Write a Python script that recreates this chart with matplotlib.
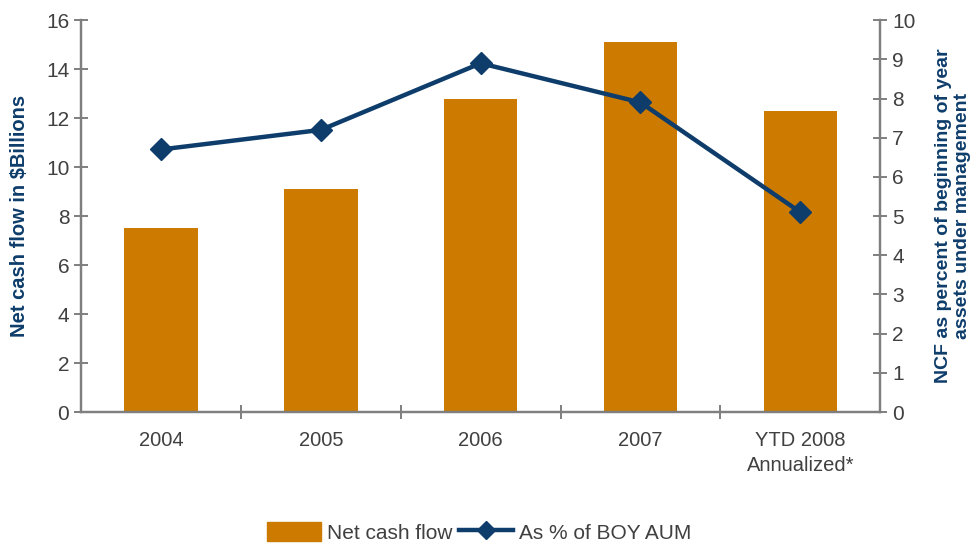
import matplotlib.pyplot as plt
import numpy as np
from matplotlib.lines import Line2D
from matplotlib.patches import Patch

# Dados
categorias = ['2004', '2005', '2006', '2007', 'YTD 2008\nAnnualized*']
fluxo_caixa = [7.5, 9.1, 12.8, 15.1, 12.3]      # $ bilhoes
pct_boy_aum = [6.7, 7.2, 8.9, 7.9, 5.1]         # % do AUM

laranja = '#CC7A00'
azul = '#0E3D6B'
cinza = '#7F7F7F'
texto = '#404040'

plt.rcParams['font.family'] = ['Liberation Sans', 'DejaVu Sans']

fig = plt.figure(figsize=(9.78, 5.45), dpi=100)
ax = fig.add_axes([0.083, 0.244, 0.817, 0.719])
ax2 = ax.twinx()

x = np.arange(len(categorias))
ax.bar(x, fluxo_caixa, width=0.46, color=laranja, zorder=2)
ax2.plot(x, pct_boy_aum, color=azul, linewidth=3.2, marker='D', markersize=11,
         zorder=3)

ax.set_xlim(-0.5, len(categorias) - 0.5)
ax.set_ylim(0, 16)
ax2.set_ylim(0, 10)
ax.set_yticks(range(0, 17, 2))
ax2.set_yticks(range(0, 11))

# Eixos
for a in (ax, ax2):
    a.spines['top'].set_visible(False)
    for s in ('left', 'right', 'bottom'):
        a.spines[s].set_color(cinza)
        a.spines[s].set_linewidth(1.6)
ax.set_zorder(ax2.get_zorder() - 1)
ax2.patch.set_visible(False)

ax.set_xticks(x)
ax.set_xticklabels(categorias, fontsize=14.5, color=texto, linespacing=1.35)
ax.set_xticks(np.arange(0.5, len(categorias) - 0.5), minor=True)
ax.tick_params(axis='x', which='major', length=0, pad=14)
ax.tick_params(axis='x', which='minor', direction='inout', length=10,
               width=1.4, color=cinza)
ax.tick_params(axis='y', direction='inout', length=10, width=1.4, color=cinza,
               labelsize=15, labelcolor=texto)
ax2.tick_params(axis='y', direction='inout', length=10, width=1.4, color=cinza,
                labelsize=15, labelcolor=texto)

ax.set_ylabel('Net cash flow in $Billions', fontsize=14.5, fontweight='bold',
              color=azul, labelpad=12)
ax2.set_ylabel('NCF as percent of beginning of year\nassets under management',
               fontsize=14, fontweight='bold', color=azul, labelpad=14)

# Legenda
handles = [Patch(color=laranja),
           Line2D([], [], color=azul, linewidth=3.2, marker='D', markersize=9)]
fig.legend(handles, ['Net cash flow', 'As % of BOY AUM'], loc='lower center',
           bbox_to_anchor=(0.49, -0.03), ncol=2, frameon=False, fontsize=15,
           handlelength=2.6, handleheight=1.0, handletextpad=0.3,
           columnspacing=0.3, labelcolor=texto)

fig.savefig('out.png', dpi=100)
